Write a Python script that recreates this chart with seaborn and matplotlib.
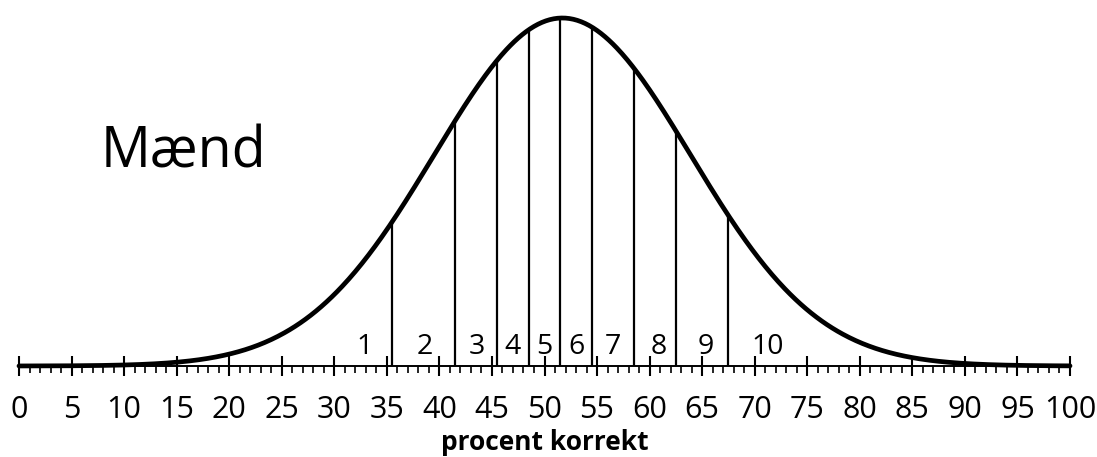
import numpy as np
import pandas as pd
import seaborn as sns
import matplotlib.pyplot as plt
from matplotlib.ticker import MultipleLocator

sns.set_style("white")
plt.rcParams['font.family'] = ['Open Sans', 'DejaVu Sans']
plt.rcParams['text.color'] = 'black'
plt.rcParams['axes.labelcolor'] = 'black'
plt.rcParams['xtick.color'] = 'black'

# fordelingens parametre (aflæst fra kurven)
middel = 51.7
spredning = 12.2

# grænser mellem de 10 grupper
graenser = [35.5, 41.5, 45.5, 48.5, 51.5, 54.5, 58.5, 62.5, 67.5]
# placering af gruppenumrene
gruppe_x = [32.9, 38.6, 43.6, 47.0, 50.0, 53.0, 56.5, 60.9, 65.3, 71.2]
gruppe_navne = ['1', '2', '3', '4', '5', '6', '7', '8', '9', '10']


def taethed(x):
    x = np.asarray(x, dtype=float)
    return np.exp(-0.5 * ((x - middel) / spredning) ** 2) / (spredning * np.sqrt(2 * np.pi))


df = pd.DataFrame({'procent': np.linspace(0, 100, 801)})
df['taethed'] = taethed(df['procent'])

fig = plt.figure(figsize=(10.97, 4.57), dpi=100)
ax = fig.add_axes([19 / 1097, 91 / 457, 1051 / 1097, 1 - 91 / 457 - 18 / 457])

sns.lineplot(data=df, x='procent', y='taethed', color='black', linewidth=3.4,
             ax=ax, clip_on=False, zorder=5)
ax.vlines(graenser, 0, taethed(graenser), color='black', linewidth=1.6, zorder=4)

for x, navn in zip(gruppe_x, gruppe_navne):
    ax.text(x, 0.0005, navn, ha='center', va='bottom', fontsize=20.5, zorder=6)

ax.text(15.6, taethed(middel) * 0.57, 'Mænd', ha='center', va='baseline', fontsize=40)

ax.set_xlim(0, 100)
ax.set_ylim(0, taethed(middel))
ax.xaxis.set_major_locator(MultipleLocator(5))
ax.xaxis.set_minor_locator(MultipleLocator(1))
ax.set_yticks([])
for side in ['top', 'left', 'right']:
    ax.spines[side].set_visible(False)
ax.spines['bottom'].set_linewidth(1.4)
ax.spines['bottom'].set_color('black')
ax.tick_params(axis='x', which='major', direction='inout', length=14, width=1.5,
               labelsize=22, pad=14, color='black', labelcolor='black', bottom=True)
ax.tick_params(axis='x', which='minor', direction='out', length=5, width=1.2,
               color='black', bottom=True)
ax.set_xlabel('procent korrekt', fontsize=19, fontweight='bold', labelpad=3)
ax.set_ylabel('')

plt.savefig('out.png', dpi=100)
